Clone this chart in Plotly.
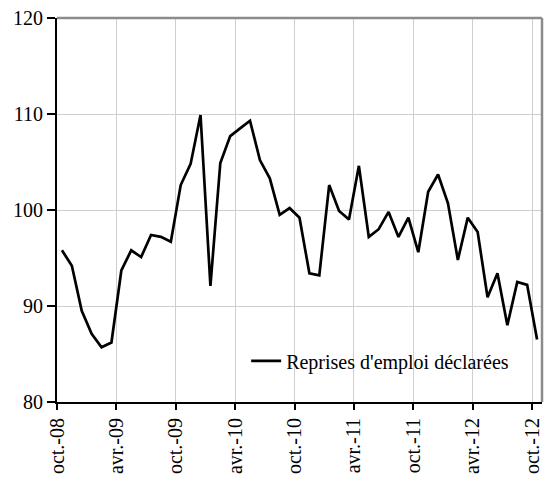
import plotly.graph_objects as go

months = [
    "oct.-08", "nov.-08", "déc.-08",
    "janv.-09", "févr.-09", "mars-09", "avr.-09", "mai-09", "juin-09",
    "juil.-09", "août-09", "sept.-09", "oct.-09", "nov.-09", "déc.-09",
    "janv.-10", "févr.-10", "mars-10", "avr.-10", "mai-10", "juin-10",
    "juil.-10", "août-10", "sept.-10", "oct.-10", "nov.-10", "déc.-10",
    "janv.-11", "févr.-11", "mars-11", "avr.-11", "mai-11", "juin-11",
    "juil.-11", "août-11", "sept.-11", "oct.-11", "nov.-11", "déc.-11",
    "janv.-12", "févr.-12", "mars-12", "avr.-12", "mai-12", "juin-12",
    "juil.-12", "août-12", "sept.-12", "oct.-12",
]

reprises = [
    95.8, 94.2, 89.5, 87.1, 85.7, 86.2, 93.7, 95.8, 95.1, 97.4,
    97.2, 96.7, 102.6, 104.8, 109.9, 92.1, 104.9, 107.7, 108.5, 109.3,
    105.2, 103.3, 99.5, 100.2, 99.2, 93.4, 93.2, 102.6, 99.9, 99.0,
    104.6, 97.2, 98.0, 99.8, 97.2, 99.2, 95.6, 101.9, 103.7, 100.7,
    94.8, 99.2, 97.7, 90.9, 93.4, 88.0, 92.5, 92.2, 86.5,
]

series_name = "Reprises d'emploi déclarées"
label_step = 6
y_ticks = [80, 90, 100, 110, 120]

idx = list(range(len(months)))
tick_pos = [i - 0.5 for i in range(0, len(months), label_step)]
tick_txt = [months[i] for i in range(0, len(months), label_step)]

font = dict(family="Liberation Serif, Times New Roman, serif", size=20, color="black")

fig = go.Figure()
fig.add_trace(go.Scatter(
    x=idx, y=reprises, mode="lines", name=series_name,
    line=dict(color="black", width=2.7),
    hovertext=months,
))

fig.update_layout(
    width=550, height=481,
    margin=dict(l=57, r=7, t=17, b=78),
    paper_bgcolor="white", plot_bgcolor="white",
    font=font,
    showlegend=True,
    legend=dict(
        x=0.39, xanchor="left", y=0.107, yanchor="middle",
        bgcolor="rgba(0,0,0,0)", borderwidth=0,
        font=font,
    ),
    shapes=[
        dict(type="rect", xref="paper", yref="paper",
             x0=0.35, x1=0.995, y0=0.048, y1=0.168,
             fillcolor="white", line=dict(width=0), layer="between"),
        dict(type="line", xref="paper", yref="paper",
             x0=0, x1=1, y0=1, y1=1, line=dict(color="#8c8c8c", width=2.5)),
        dict(type="line", xref="paper", yref="paper",
             x0=1, x1=1, y0=0, y1=1, line=dict(color="#8c8c8c", width=2.5)),
    ],
)

fig.update_xaxes(
    range=[-0.5, len(months) - 0.5],
    tickmode="array", tickvals=tick_pos, ticktext=tick_txt,
    tickangle=-90,
    showgrid=True, gridcolor="#cfcfcf", gridwidth=1.3,
    showline=True, linecolor="black", linewidth=2,
    ticks="outside", ticklen=6, tickcolor="black", tickwidth=1.5,
    zeroline=False, tickfont=font,
)
fig.update_yaxes(
    range=[80, 120], tickmode="array", tickvals=y_ticks,
    showgrid=True, gridcolor="#cfcfcf", gridwidth=1.3,
    showline=True, linecolor="black", linewidth=2,
    ticks="outside", ticklen=8, tickcolor="black", tickwidth=1.5,
    zeroline=False, tickfont=font,
)

fig.write_html(
    "out.html",
    config={"displayModeBar": False},
    post_script="document.body.style.margin='0px';",
)
